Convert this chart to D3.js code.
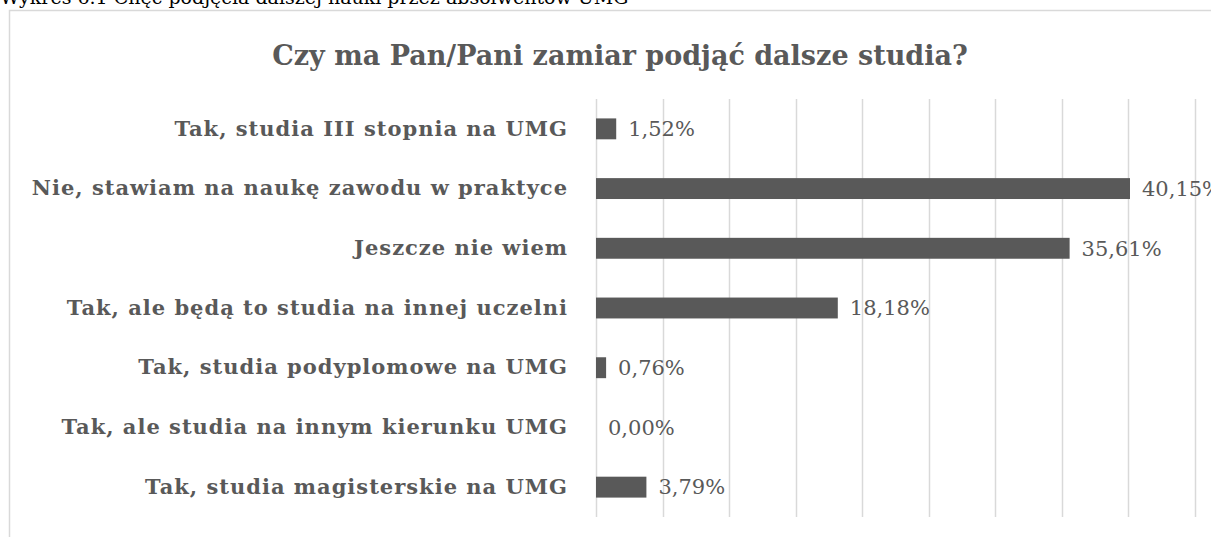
<!DOCTYPE html>
<html><head><meta charset="utf-8">
<script src="https://cdn.jsdelivr.net/npm/d3@7"></script>
<style>body{margin:0;background:#fff;overflow:hidden}</style>
</head><body>
<svg id="c" width="1211" height="537"></svg>
<script>
const categories = [
  "Tak, studia III stopnia na UMG",
  "Nie, stawiam na naukę zawodu w praktyce",
  "Jeszcze nie wiem",
  "Tak, ale będą to studia na innej uczelni",
  "Tak, studia podyplomowe na UMG",
  "Tak, ale studia na innym kierunku UMG",
  "Tak, studia magisterskie na UMG"
];
const values = [1.52, 40.15, 35.61, 18.18, 0.76, 0.00, 3.79];
const tickValues = [0,5,10,15,20,25,30,35,40,45];
const title = "Czy ma Pan/Pani zamiar podjąć dalsze studia?";
const caption = "Wykres 6.1 Chęć podjęcia dalszej nauki przez absolwentów UMG";

const svg = d3.select("#c");
const serif = "'DejaVu Serif', 'Liberation Serif', serif";
const grey = "#595959";

svg.append("text").attr("x", 0).attr("y", 4)
  .attr("font-family", serif).attr("font-size", 19)
  .attr("fill", "#000").text(caption);

svg.append("rect").attr("x", 9.5).attr("y", 10.5).attr("width", 1230).attr("height", 560)
  .attr("fill", "none").attr("stroke", "#d9d9d9").attr("stroke-width", 1.5);

svg.append("text").attr("x", 620).attr("y", 65).attr("text-anchor", "middle")
  .attr("font-family", serif).attr("font-weight", "bold").attr("font-size", 27)
  .attr("fill", grey).text(title);

const x = d3.scaleLinear().domain([0, 45]).range([596, 1194.5]);
const y = d3.scaleBand().domain(categories).range([99, 517]).paddingInner(0.65).paddingOuter(0.325);

svg.append("g").selectAll("line").data(tickValues).join("line")
  .attr("x1", d => Math.round(x(d)) + 0.5).attr("x2", d => Math.round(x(d)) + 0.5)
  .attr("y1", 99).attr("y2", 517).attr("stroke", "#d9d9d9").attr("stroke-width", 1.5);

svg.append("g").selectAll("rect").data(categories).join("rect")
  .attr("x", x(0)).attr("y", d => y(d))
  .attr("width", (d, i) => x(values[i]) - x(0)).attr("height", y.bandwidth())
  .attr("fill", grey);

const yAxis = d3.axisLeft(y).tickSize(0).tickPadding(28);
const ga = svg.append("g").attr("transform", `translate(${x(0)},0)`).call(yAxis);
ga.select(".domain").remove();
ga.selectAll("text").attr("font-family", serif).attr("font-weight", "bold")
  .attr("font-size", 21).attr("letter-spacing", 1).attr("fill", grey);

svg.append("g").selectAll("text").data(categories).join("text")
  .attr("x", (d, i) => x(values[i]) + 12)
  .attr("y", d => y(d) + y.bandwidth() / 2).attr("dy", "0.35em")
  .attr("font-family", serif).attr("font-size", 21).attr("fill", grey)
  .text((d, i) => values[i].toFixed(2).replace(".", ",") + "%");
</script>
</body></html>
